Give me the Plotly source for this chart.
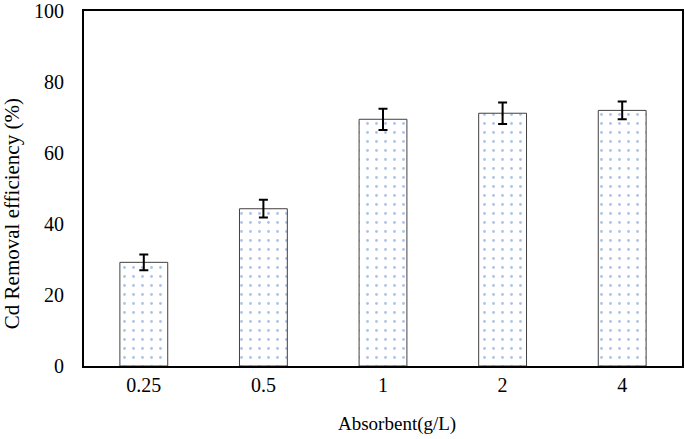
import plotly.graph_objects as go

categories = ["0.25", "0.5", "1", "2", "4"]
removal = [29.2, 44.3, 69.5, 71.2, 72.0]
errors = [2.2, 2.5, 3.0, 3.0, 2.5]
y_ticks = [0, 20, 40, 60, 80, 100]
x_title = "Absorbent(g/L)"
y_title = "Cd Removal efficiency (%)"

font_family = "Liberation Serif, Times New Roman, serif"

fig = go.Figure()
fig.add_trace(go.Bar(
    x=categories,
    y=removal,
    width=0.4,
    marker=dict(
        color="white",
        line=dict(color="#404040", width=1),
        pattern=dict(shape=".", fgcolor="#5a8ad0", bgcolor="white", size=9, solidity=0.08),
    ),
    error_y=dict(type="data", array=errors, visible=True, color="black", thickness=2, width=4.5),
))

fig.update_layout(
    width=685, height=439,
    margin=dict(l=84, r=3, t=11, b=73),
    plot_bgcolor="white", paper_bgcolor="white",
    font=dict(family=font_family, color="black", size=20),
    showlegend=False,
    bargap=0.6,
)
fig.update_xaxes(
    type="category", automargin=False, ticklabeloverflow="allow",
    showline=True, linecolor="black", linewidth=2, mirror=True,
    ticks="",
    tickfont=dict(size=20),
)
fig.update_yaxes(
    range=[0, 100], tickvals=y_ticks, automargin=False, ticklabeloverflow="allow",
    showline=True, linecolor="black", linewidth=2, mirror=True,
    showgrid=False, zeroline=False,
    ticks="outside", ticklen=14, tickcolor="rgba(0,0,0,0)",
    tickfont=dict(size=20),
)
fig.add_annotation(
    text=x_title, xref="paper", yref="paper", x=0.523, y=-0.163,
    xanchor="center", yanchor="middle", showarrow=False, font=dict(size=19),
)
fig.add_annotation(
    text=y_title, xref="paper", yref="paper", x=-0.119, y=0.43,
    xanchor="center", yanchor="middle", showarrow=False, textangle=-90, font=dict(size=21),
)

fig.write_html("out.html", post_script="document.body.style.margin='0';",
               config={"displayModeBar": False})
